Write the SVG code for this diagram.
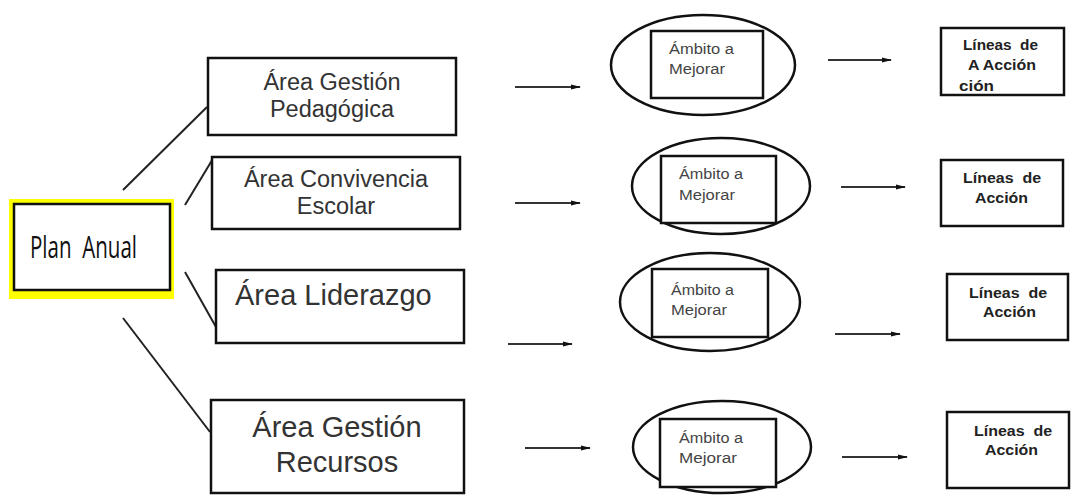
<svg xmlns="http://www.w3.org/2000/svg" width="1071" height="495" viewBox="0 0 1071 495">
<defs>
<style>
.box{fill:#fff;stroke:#111;stroke-width:2.5}
.ell{fill:#fff;stroke:#111;stroke-width:2.5}
.inner{fill:#fff;stroke:#111;stroke-width:2.5}
.con{stroke:#222;stroke-width:2;fill:none}
.arr{stroke:#333;stroke-width:2;fill:none;marker-end:url(#ah)}
.area{font-family:'Liberation Sans',Arial,sans-serif;fill:#333;text-anchor:middle}
.amb{font-family:'Liberation Sans',Arial,sans-serif;font-size:14px;fill:#444}
.lin{font-family:'Liberation Sans',Arial,sans-serif;font-size:14px;font-weight:bold;fill:#222}
</style>
<marker id="ah" markerWidth="10" markerHeight="6" refX="9" refY="3" orient="auto" markerUnits="userSpaceOnUse">
<path d="M0,0.5 L10,3 L0,5.5 Z" fill="#111"/>
</marker>
</defs>
<rect width="1071" height="495" fill="#fff"/>

<g id="connectors">
<line class="con" x1="123" y1="190" x2="207" y2="107"/>
<line class="con" x1="185" y1="205" x2="214" y2="157"/>
<line class="con" x1="185" y1="272" x2="216" y2="327"/>
<line class="con" x1="123" y1="318" x2="210" y2="432"/>
<line class="arr" x1="515" y1="87" x2="580" y2="87"/>
<line class="arr" x1="515" y1="203" x2="580" y2="203"/>
<line class="arr" x1="508" y1="344" x2="572" y2="344"/>
<line class="arr" x1="525" y1="448" x2="590" y2="448"/>
<line class="arr" x1="828" y1="60" x2="891" y2="60"/>
<line class="arr" x1="841" y1="187" x2="905" y2="187"/>
<line class="arr" x1="835" y1="334" x2="900" y2="334"/>
<line class="arr" x1="842" y1="457" x2="907" y2="457"/>
</g>

<g id="plan-anual">
<rect x="9" y="199" width="165" height="100" fill="#ffff00"/>
<rect x="14" y="204" width="156" height="86" fill="#fff" stroke="#111" stroke-width="2.5"/>
<text x="30" y="258" font-family="'Open Sans','Liberation Sans',sans-serif" font-size="31" fill="#111" textLength="107" lengthAdjust="spacingAndGlyphs">Plan&#160; Anual</text>
</g>

<g id="area-pedagogica">
<rect class="box" x="208" y="58" width="248" height="77"/>
<text class="area" font-size="23.5" x="332" y="90">Área Gestión</text>
<text class="area" font-size="23.5" x="332" y="117">Pedagógica</text>
</g>
<g id="area-convivencia">
<rect class="box" x="212" y="157" width="248" height="72"/>
<text class="area" font-size="23.5" x="336" y="187">Área Convivencia</text>
<text class="area" font-size="23.5" x="336" y="214">Escolar</text>
</g>
<g id="area-liderazgo">
<rect class="box" x="216" y="270" width="248" height="73"/>
<text font-family="'Liberation Sans',Arial,sans-serif" fill="#333" font-size="29" x="235" y="305">Área Liderazgo</text>
</g>
<g id="area-recursos">
<rect class="box" x="211" y="400" width="253" height="93"/>
<text class="area" font-size="29" x="337" y="437">Área Gestión</text>
<text class="area" font-size="29" x="337" y="472">Recursos</text>
</g>

<g id="ambito-1">
<ellipse class="ell" cx="703" cy="65" rx="92" ry="50"/>
<rect class="inner" x="651" y="31" width="112" height="67"/>
<text class="amb" x="669" y="54" textLength="65" lengthAdjust="spacingAndGlyphs">Ámbito a</text>
<text class="amb" x="669" y="74" textLength="56" lengthAdjust="spacingAndGlyphs">Mejorar</text>
</g>
<g id="ambito-2">
<ellipse class="ell" cx="721" cy="186" rx="89" ry="48"/>
<rect class="inner" x="661" y="156" width="115" height="67"/>
<text class="amb" x="679" y="179" textLength="64" lengthAdjust="spacingAndGlyphs">Ámbito a</text>
<text class="amb" x="679" y="200" textLength="56" lengthAdjust="spacingAndGlyphs">Mejorar</text>
</g>
<g id="ambito-3">
<ellipse class="ell" cx="710" cy="302" rx="90" ry="49"/>
<rect class="inner" x="652" y="269" width="116" height="68"/>
<text class="amb" x="671" y="295" textLength="63" lengthAdjust="spacingAndGlyphs">Ámbito a</text>
<text class="amb" x="671" y="315" textLength="56" lengthAdjust="spacingAndGlyphs">Mejorar</text>
</g>
<g id="ambito-4">
<ellipse class="ell" cx="722" cy="447" rx="89" ry="46"/>
<rect class="inner" x="660" y="419" width="116" height="68"/>
<text class="amb" x="679" y="443" textLength="64" lengthAdjust="spacingAndGlyphs">Ámbito a</text>
<text class="amb" x="679" y="463" textLength="58" lengthAdjust="spacingAndGlyphs">Mejorar</text>
</g>

<g id="lineas-1">
<rect class="box" x="941" y="28" width="123" height="67"/>
<text class="lin" x="963" y="50" textLength="75" lengthAdjust="spacingAndGlyphs">Líneas&#160; de</text>
<text class="lin" x="968" y="70" textLength="68" lengthAdjust="spacingAndGlyphs">A Acción</text>
<text class="lin" x="959" y="91" textLength="35" lengthAdjust="spacingAndGlyphs">ción</text>
</g>
<g id="lineas-2">
<rect class="box" x="941" y="160" width="122" height="66"/>
<text class="lin" x="963" y="183" textLength="78" lengthAdjust="spacingAndGlyphs">Líneas&#160; de</text>
<text class="lin" x="975" y="203" textLength="53" lengthAdjust="spacingAndGlyphs">Acción</text>
</g>
<g id="lineas-3">
<rect class="box" x="947" y="274" width="121" height="66"/>
<text class="lin" x="969" y="298" textLength="78" lengthAdjust="spacingAndGlyphs">Líneas&#160; de</text>
<text class="lin" x="983" y="317" textLength="53" lengthAdjust="spacingAndGlyphs">Acción</text>
</g>
<g id="lineas-4">
<rect class="box" x="947" y="412" width="122" height="76"/>
<text class="lin" x="974" y="436" textLength="78" lengthAdjust="spacingAndGlyphs">Líneas&#160; de</text>
<text class="lin" x="985" y="455" textLength="53" lengthAdjust="spacingAndGlyphs">Acción</text>
</g>
</svg>
